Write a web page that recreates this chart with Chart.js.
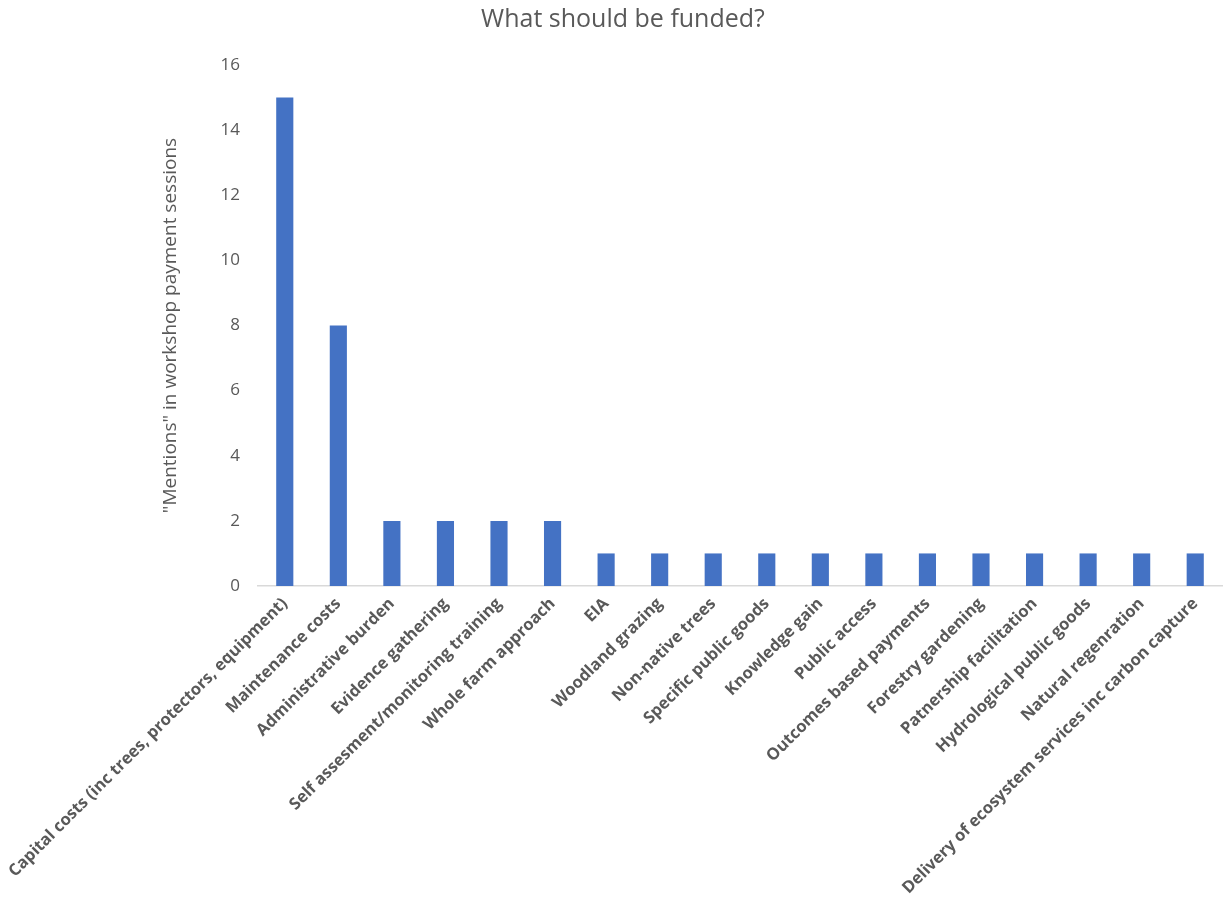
<!DOCTYPE html>
<html>
<head>
<meta charset="utf-8">
<script src="https://cdn.jsdelivr.net/npm/chart.js@4"></script>
<style>
  html, body { margin: 0; padding: 0; background: #fff; }
  #wrap { width: 1225px; height: 899px; }
</style>
</head>
<body>
<div id="wrap"><canvas id="fundChart"></canvas></div>
<script>
const categories = [
  'Capital costs (inc trees, protectors, equipment)',
  'Maintenance costs',
  'Administrative burden',
  'Evidence gathering',
  'Self assesment/monitoring training',
  'Whole farm approach',
  'EIA',
  'Woodland grazing',
  'Non-native trees',
  'Specific public goods',
  'Knowledge gain',
  'Public access',
  'Outcomes based payments',
  'Forestry gardening',
  'Patnership facilitation',
  'Hydrological public goods',
  'Natural regenration',
  'Delivery of ecosystem services inc carbon capture'
];
const mentions = [15, 8, 2, 2, 2, 2, 1, 1, 1, 1, 1, 1, 1, 1, 1, 1, 1, 1];
const yTicks = [0, 2, 4, 6, 8, 10, 12, 14, 16];

Chart.defaults.font.family = '"Open Sans", "Noto Sans", sans-serif';
Chart.defaults.color = '#595959';

const ctx = document.getElementById('fundChart');

new Chart(ctx, {
  type: 'bar',
  data: {
    labels: categories,
    datasets: [{
      label: 'Mentions',
      data: mentions,
      backgroundColor: '#4472c4',
      borderWidth: 0,
      categoryPercentage: 1,
      barPercentage: 0.32
    }]
  },
  options: {
    responsive: true,
    maintainAspectRatio: false,
    animation: false,
    layout: { padding: { top: 5, right: 3, left: 24, bottom: 0 } },
    plugins: {
      legend: { display: false },
      tooltip: { enabled: false },
      title: {
        display: true,
        text: 'What should be funded?',
        color: '#595959',
        font: { size: 25, weight: 'normal' },
        padding: { top: 0, bottom: 30 }
      }
    },
    scales: {
      x: {
        grid: { display: false, drawTicks: false },
        border: { display: true, color: '#d9d9d9', width: 1.5 },
        afterFit: (axis) => {
          axis.height = 313;
          axis.paddingLeft = 0;
        },
        ticks: {
          color: '#595959',
          font: { size: 16.5, weight: 'bold' },
          minRotation: 45,
          maxRotation: 45,
          autoSkip: false,
          padding: 8
        }
      },
      y: {
        min: 0,
        max: 16,
        afterBuildTicks: (axis) => { axis.ticks = yTicks.map(v => ({ value: v })); },
        afterFit: (axis) => { axis.width = 234; },
        grid: { display: false, drawTicks: false },
        border: { display: false },
        ticks: {
          color: '#595959',
          font: { size: 17 },
          padding: 18
        },
        title: {
          display: true,
          text: '"Mentions" in workshop payment sessions',
          color: '#595959',
          font: { size: 19 },
          padding: { top: 135, bottom: 0 }
        }
      }
    }
  }
});
</script>
</body>
</html>
